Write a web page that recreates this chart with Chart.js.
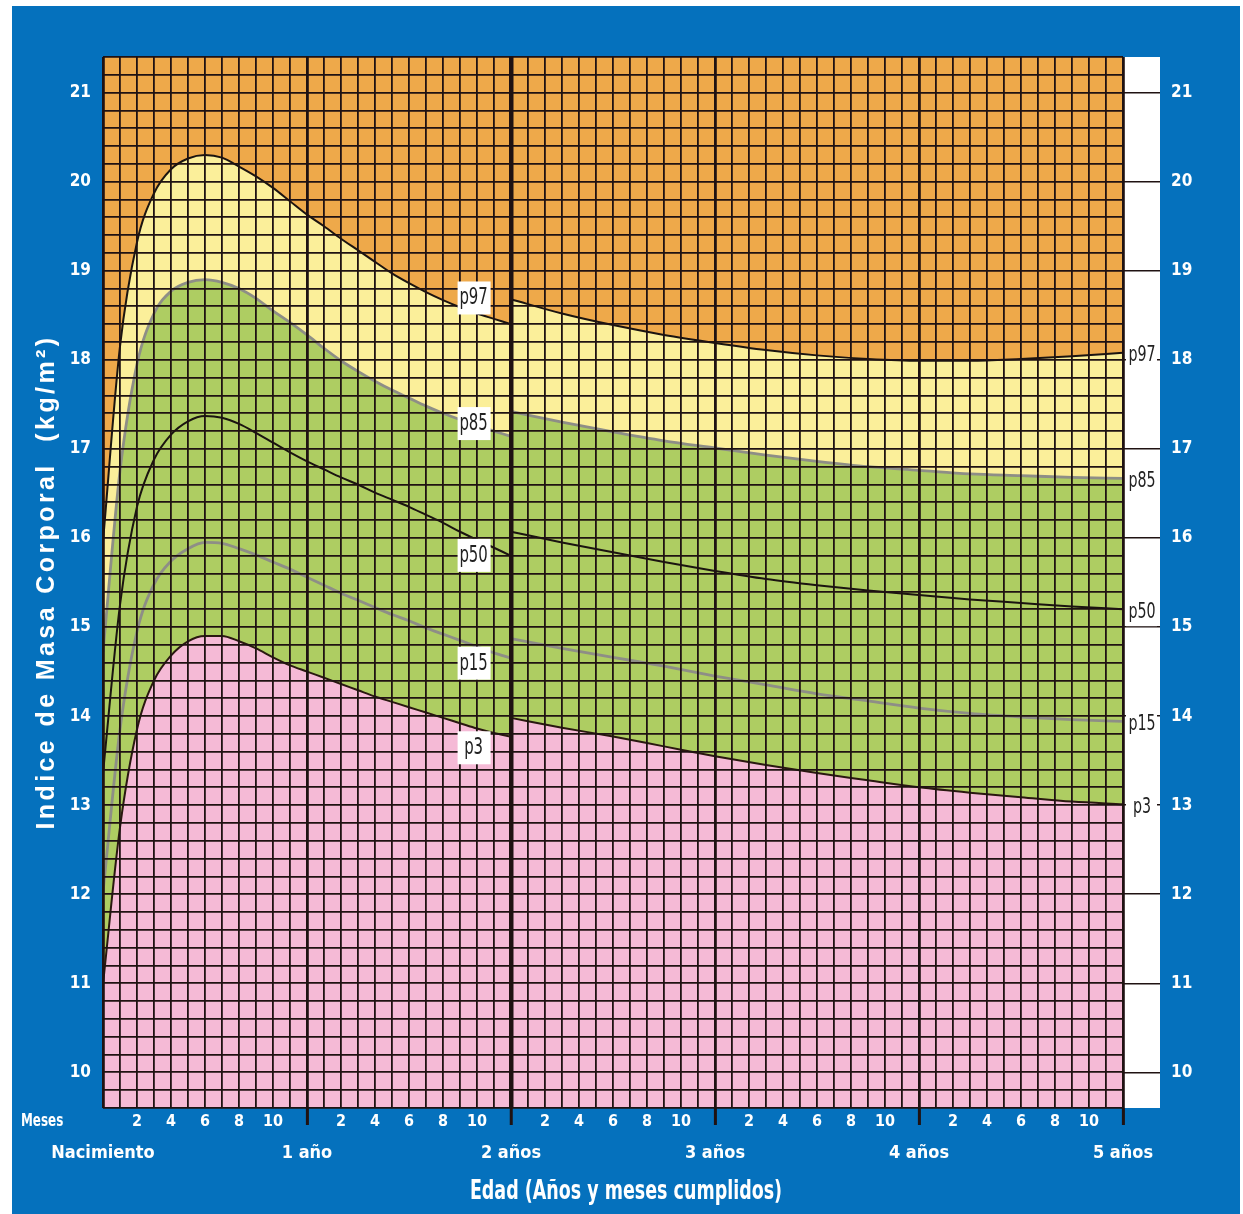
<!DOCTYPE html>
<html>
<head>
<meta charset="utf-8">
<title>IMC 0 a 5 años</title>
<script src="https://cdn.jsdelivr.net/npm/chart.js@4.4.1/dist/chart.umd.min.js"></script>
<style>
  html, body { margin: 0; padding: 0; background: #fff; }
  canvas { display: block; }
</style>
</head>
<body>
<canvas id="imcChart" width="1243" height="1214"></canvas>
<script>
// meses 0-24 (longitud acostada) y 24-60 (talla de pie)
const monthsA = [0, 1, 2, 3, 4, 5, 6, 7, 8, 9, 10, 11, 12, 13, 14, 15, 16, 17, 18, 19, 20, 21, 22, 23, 24];
const monthsB = [24, 27, 30, 33, 36, 39, 42, 45, 48, 51, 54, 57, 60];

const p97A = [15.96, 18.15, 19.32, 19.87, 20.14, 20.26, 20.30, 20.27, 20.17, 20.06, 19.93, 19.78, 19.63, 19.50, 19.36, 19.23, 19.10, 18.97, 18.86, 18.76, 18.67, 18.59, 18.52, 18.46, 18.40];
const p85A = [14.72, 16.75, 17.95, 18.52, 18.77, 18.87, 18.90, 18.87, 18.80, 18.69, 18.55, 18.42, 18.28, 18.13, 17.99, 17.87, 17.76, 17.66, 17.57, 17.48, 17.40, 17.33, 17.26, 17.20, 17.14];
const p50A = [13.36, 15.25, 16.35, 16.88, 17.16, 17.31, 17.37, 17.35, 17.28, 17.18, 17.07, 16.96, 16.86, 16.77, 16.68, 16.60, 16.51, 16.43, 16.35, 16.26, 16.17, 16.07, 15.98, 15.89, 15.80];
const p15A = [12.02, 13.85, 14.95, 15.48, 15.74, 15.88, 15.95, 15.94, 15.88, 15.81, 15.73, 15.65, 15.56, 15.47, 15.38, 15.30, 15.22, 15.14, 15.07, 14.99, 14.92, 14.85, 14.78, 14.71, 14.65];
const p3A  = [10.99, 12.75, 13.85, 14.40, 14.68, 14.84, 14.90, 14.90, 14.84, 14.76, 14.66, 14.57, 14.50, 14.43, 14.36, 14.29, 14.22, 14.16, 14.10, 14.04, 13.98, 13.92, 13.86, 13.81, 13.77];

const p97B = [18.68, 18.52, 18.39, 18.28, 18.19, 18.11, 18.05, 18.01, 17.99, 17.99, 18.01, 18.04, 18.08];
const p85B = [17.42, 17.30, 17.19, 17.09, 17.01, 16.93, 16.86, 16.80, 16.76, 16.72, 16.70, 16.68, 16.67];
const p50B = [16.07, 15.95, 15.84, 15.73, 15.63, 15.54, 15.47, 15.41, 15.36, 15.31, 15.27, 15.23, 15.20];
const p15B = [14.87, 14.76, 14.66, 14.56, 14.45, 14.35, 14.25, 14.17, 14.09, 14.03, 13.99, 13.96, 13.94];
const p3B  = [13.98, 13.87, 13.77, 13.66, 13.55, 13.45, 13.36, 13.28, 13.20, 13.14, 13.09, 13.04, 13.01];

const percentileNames = ['p97', 'p85', 'p50', 'p15', 'p3'];
const yearLabels = ['Nacimiento', '1 año', '2 años', '3 años', '4 años', '5 años'];

const BLUE = '#0571bd';
const GRID = '#1f1212';
const NARROW = '"Liberation Sans Narrow", "DejaVu Sans Condensed", sans-serif';
const WIDE = '"Liberation Sans", Arial, sans-serif';
const CLEAR = 'rgba(0,0,0,0)';

const lineColors = ['#1b1410', '#8e8e86', '#1b1410', '#8e8e86', '#2a1810'];
const bandColors = ['#eea94a', '#fbef9a', '#aecd62', '#aecd62', '#aecd62'];
const pinkBand = '#f5bad6';

function isInt(v) {
    return Math.abs(v - Math.round(v)) < 1e-6;
}

function makeSet(name, months, values, idx) {
    return {
        label: name,
        data: months.map(function (m, i) { return { x: m, y: values[i] }; }),
        borderColor: lineColors[idx],
        borderWidth: idx % 2 === 1 ? 2.8 : 2,
        backgroundColor: bandColors[idx],
        fill: idx === 0 ? 'end' : '-1',
        pointRadius: 0,
        cubicInterpolationMode: 'monotone'
    };
}

const partA = [p97A, p85A, p50A, p15A, p3A];
const partB = [p97B, p85B, p50B, p15B, p3B];
const datasets = [];
partA.forEach(function (vals, i) { datasets.push(makeSet(percentileNames[i], monthsA, vals, i)); });
partB.forEach(function (vals, i) { datasets.push(makeSet(percentileNames[i], monthsB, vals, i)); });

// where the small boxed names sit inside the grid (month, value)
const innerLabelSpots = [[21.8, 18.70], [21.8, 17.29], [21.8, 15.81], [21.8, 14.60], [21.8, 13.65]];

// squeezed text, to get close to the narrow type of the printed chart
function narrowText(ctx, text, x, y, font, squeeze) {
    ctx.save();
    ctx.font = font;
    ctx.translate(x, y);
    ctx.scale(squeeze, 1);
    ctx.fillText(text, 0, 0);
    ctx.restore();
}

const decor = {
    id: 'decor',
    beforeDraw(chart) {
        const { ctx, chartArea: a, width, height } = chart;
        ctx.save();
        ctx.fillStyle = '#fff';
        ctx.fillRect(0, 0, width, height);
        ctx.fillStyle = BLUE;
        ctx.fillRect(12, 6, 1228, height - 6);
        ctx.fillStyle = '#fff';
        ctx.fillRect(a.right, a.top, 37, a.bottom - a.top);
        ctx.fillStyle = pinkBand;
        ctx.fillRect(a.left, a.top, a.right - a.left, a.bottom - a.top);
        ctx.restore();
    },
    afterDraw(chart) {
        const { ctx, chartArea: a } = chart;
        const xs = chart.scales.x;
        const ys = chart.scales.y;
        ctx.save();
        ctx.textAlign = 'center';
        ctx.textBaseline = 'middle';

        // boxed names in the middle of the grid
        innerLabelSpots.forEach(function (spot, i) {
            const px = xs.getPixelForValue(spot[0]);
            const py = ys.getPixelForValue(spot[1]);
            ctx.fillStyle = '#fff';
            ctx.fillRect(px - 16, py - 16, 33, 33);
            ctx.fillStyle = '#222';
            narrowText(ctx, percentileNames[i], px, py + 1, '23px ' + NARROW, 0.72);
        });

        // names at the right end, in the white strip
        partB.forEach(function (vals, i) {
            const py = ys.getPixelForValue(vals[vals.length - 1]) + 3;
            ctx.fillStyle = '#fff';
            ctx.fillRect(a.right + 3, py - 14, 31, 28);
            ctx.fillStyle = '#222';
            narrowText(ctx, percentileNames[i], a.right + 19, py, '22px ' + NARROW, 0.72);
        });

        ctx.fillStyle = '#fff';
        ctx.textAlign = 'left';
        narrowText(ctx, 'Meses', 21, 1122, 'bold 17px ' + NARROW, 0.78);

        ctx.textAlign = 'center';
        narrowText(ctx, 'Edad (Años y meses cumplidos)', 626, 1192, 'bold 27px ' + NARROW, 0.72);

        // vertical title
        const title = 'Indice de Masa Corporal  (kg/m²)';
        ctx.translate(47, 582);
        ctx.rotate(-Math.PI / 2);
        ctx.font = 'bold 25px ' + WIDE;
        const w = ctx.measureText(title).width;
        ctx.letterSpacing = Math.max(0, (495 - w) / title.length).toFixed(2) + 'px';
        ctx.fillText(title, 0, 0);

        ctx.restore();
    }
};

new Chart(document.getElementById('imcChart'), {
    type: 'line',
    data: { datasets: datasets },
    options: {
        responsive: false,
        animation: false,
        devicePixelRatio: 1,
        layout: { padding: { top: 57, left: 0, right: 0, bottom: 0 } },
        plugins: {
            legend: { display: false },
            tooltip: { enabled: false },
            filler: { propagate: false }
        },
        scales: {
            x: {
                type: 'linear',
                min: 0,
                max: 60,
                afterFit(scale) { scale.height = 106; },
                border: { display: false },
                grid: {
                    z: 1,
                    color: GRID,
                    lineWidth: function (c) {
                        if (!c.tick) return 1.8;
                        if (c.tick.value === 24) return 4.5;
                        return c.tick.value % 12 === 0 ? 2.8 : 1.8;
                    },
                    tickLength: 17,
                    tickWidth: 3,
                    tickColor: function (c) {
                        return c.tick && c.tick.value > 0 && c.tick.value % 12 === 0 ? GRID : CLEAR;
                    }
                },
                ticks: {
                    stepSize: 1,
                    autoSkip: false,
                    maxRotation: 0,
                    minRotation: 0,
                    padding: -13,
                    color: '#fff',
                    font: function (c) {
                        if (c.tick && c.tick.value % 12 === 0) {
                            return { family: NARROW, size: 18, weight: 'bold', lineHeight: 1.52 };
                        }
                        return { family: NARROW, size: 16, weight: 'bold', lineHeight: 1.2 };
                    },
                    callback: function (value) {
                        const m = Math.round(value);
                        if (m % 12 === 0) return ['', yearLabels[m / 12]];
                        if ((m % 12) % 2 === 0) return [String(m % 12)];
                        return '';
                    }
                }
            },
            y: {
                type: 'linear',
                position: 'left',
                min: 9.6,
                max: 21.4,
                afterFit(scale) { scale.width = 103; },
                border: { display: false },
                grid: { z: 1, color: GRID, lineWidth: 1.8, drawTicks: false },
                ticks: {
                    stepSize: 0.2,
                    autoSkip: false,
                    padding: 12,
                    color: '#fff',
                    font: { family: NARROW, size: 17, weight: 'bold' },
                    callback: function (value) { return isInt(value) ? String(Math.round(value)) : ''; }
                }
            },
            y2: {
                type: 'linear',
                position: 'right',
                min: 9.6,
                max: 21.4,
                afterFit(scale) { scale.width = 120; },
                border: { display: false },
                grid: {
                    z: 1,
                    drawOnChartArea: false,
                    tickLength: 37,
                    lineWidth: 1.5,
                    color: function (c) { return c.tick && isInt(c.tick.value) ? GRID : CLEAR; }
                },
                ticks: {
                    stepSize: 1,
                    autoSkip: false,
                    padding: 11,
                    color: '#fff',
                    font: { family: NARROW, size: 17, weight: 'bold' },
                    callback: function (value) { return isInt(value) ? String(Math.round(value)) : ''; }
                }
            }
        }
    },
    plugins: [decor]
});
</script>
</body>
</html>
